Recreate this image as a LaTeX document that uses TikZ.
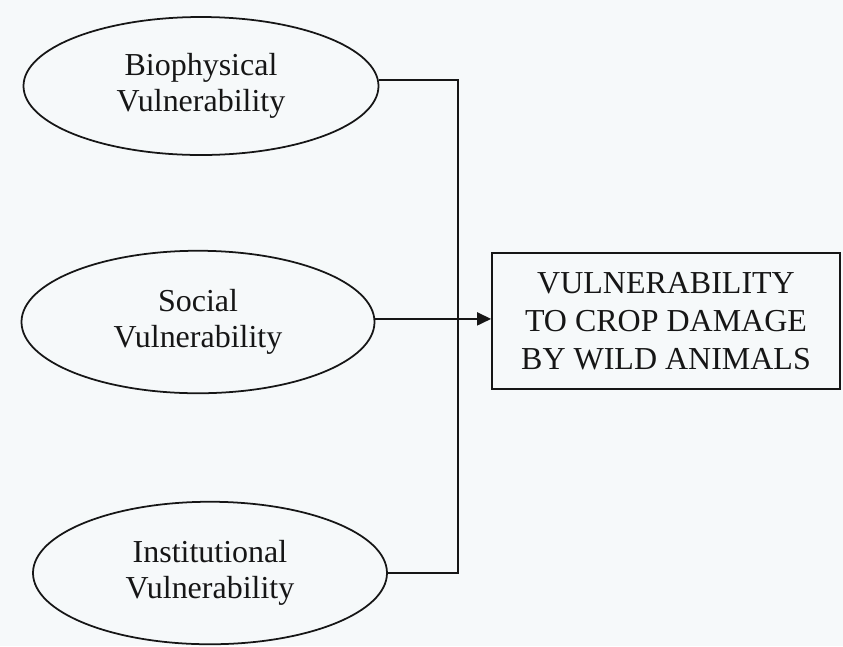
\documentclass[tikz,border=0pt]{standalone}
\usepackage{fontspec}
\setmainfont{Liberation Serif}
\usepackage{xcolor}
\usetikzlibrary{arrows.meta,positioning,shapes.geometric}

\definecolor{paper}{RGB}{246,249,250}
\definecolor{ink}{RGB}{22,22,22}

\begin{document}
\begin{tikzpicture}[
  factor/.style={draw=ink,ellipse,line width=1pt,inner sep=0pt,minimum width=7.1cm,minimum height=2.85cm,align=center,text=ink,font=\fontsize{18.2}{20.5}\selectfont},
  outcome/.style={draw=ink,rectangle,line width=1pt,inner sep=0pt,minimum width=6.96cm,minimum height=2.72cm,align=center,text=ink,font=\fontsize{18.2}{21.5}\selectfont},
  link/.style={draw=ink,line width=1pt},
  arr/.style={link,-{Triangle[length=2.8mm,width=2.6mm]}}
]

% Background and page size
\fill[paper] (0,0) rectangle (16.86,-12.92);
\useasboundingbox (0,0) rectangle (16.86,-12.92);

% Vulnerability factors
\node[factor,minimum height=2.76cm] (bio) at (4.02,-1.72) {Biophysical\\Vulnerability};
\node[factor,minimum width=7.06cm] (social) at (3.96,-6.44) {Social\\Vulnerability};
\node[factor,minimum width=7.08cm] (inst) at (4.20,-11.46) {Institutional\\Vulnerability};

% Outcome
\node[outcome] (crop) at (13.32,-6.42) {VULNERABILITY\\TO CROP DAMAGE\\BY WILD ANIMALS};

% Connectors
\coordinate (bus) at (9.16,-11.46);
\draw[link] (bio.2.3) -| (bus) -- (inst.east);
\draw[arr] (social.1.3) -- (social.1.3 -| crop.west);

\end{tikzpicture}
\end{document}
